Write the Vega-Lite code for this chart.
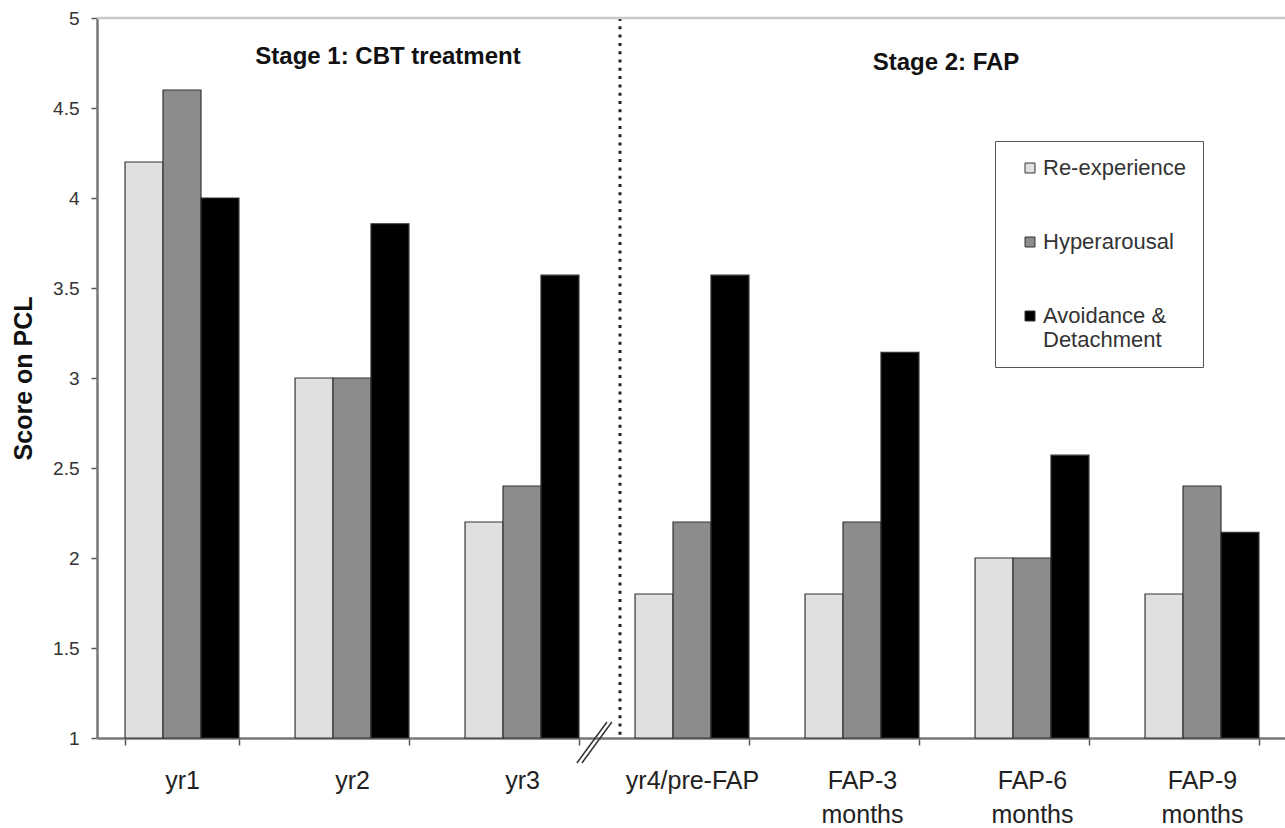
{
  "$schema": "https://vega.github.io/schema/vega-lite/v6.json",
  "autosize": "none",
  "width": 1190,
  "height": 720,
  "padding": {"left": 97, "top": 18, "right": 0, "bottom": 90},
  "background": "white",
  "config": {
    "view": {"stroke": null},
    "font": "Liberation Sans"
  },
  "datasets": {
    "scores": [
      {"cat": "yr1", "series": "Re-experience", "value": 4.2},
      {"cat": "yr1", "series": "Hyperarousal", "value": 4.6},
      {"cat": "yr1", "series": "Avoidance & Detachment", "value": 4.0},
      {"cat": "yr2", "series": "Re-experience", "value": 3.0},
      {"cat": "yr2", "series": "Hyperarousal", "value": 3.0},
      {"cat": "yr2", "series": "Avoidance & Detachment", "value": 3.857},
      {"cat": "yr3", "series": "Re-experience", "value": 2.2},
      {"cat": "yr3", "series": "Hyperarousal", "value": 2.4},
      {"cat": "yr3", "series": "Avoidance & Detachment", "value": 3.571},
      {"cat": "yr4/pre-FAP", "series": "Re-experience", "value": 1.8},
      {"cat": "yr4/pre-FAP", "series": "Hyperarousal", "value": 2.2},
      {"cat": "yr4/pre-FAP", "series": "Avoidance & Detachment", "value": 3.571},
      {"cat": "FAP-3 months", "series": "Re-experience", "value": 1.8},
      {"cat": "FAP-3 months", "series": "Hyperarousal", "value": 2.2},
      {"cat": "FAP-3 months", "series": "Avoidance & Detachment", "value": 3.143},
      {"cat": "FAP-6 months", "series": "Re-experience", "value": 2.0},
      {"cat": "FAP-6 months", "series": "Hyperarousal", "value": 2.0},
      {"cat": "FAP-6 months", "series": "Avoidance & Detachment", "value": 2.571},
      {"cat": "FAP-9 months", "series": "Re-experience", "value": 1.8},
      {"cat": "FAP-9 months", "series": "Hyperarousal", "value": 2.4},
      {"cat": "FAP-9 months", "series": "Avoidance & Detachment", "value": 2.143}
    ],
    "one": [{"k": 1}]
  },
  "layer": [
    {
      "data": {"name": "scores"},
      "mark": {"type": "bar", "stroke": "#333", "strokeWidth": 1.2},
      "encoding": {
        "x": {
          "field": "cat",
          "type": "nominal",
          "sort": ["yr1", "yr2", "yr3", "yr4/pre-FAP", "FAP-3 months", "FAP-6 months", "FAP-9 months"],
          "scale": {
            "domain": ["yr1", "yr2", "yr3", "yr4/pre-FAP", "FAP-3 months", "FAP-6 months", "FAP-9 months"],
            "paddingInner": 0.33,
            "paddingOuter": 0.165
          },
          "axis": {
            "title": null,
            "labelAngle": 0,
            "labelFontSize": 25,
            "labelColor": "#222",
            "labelBaseline": "top",
            "labelPadding": 23,
            "labelLineHeight": 34,
            "labelExpr": "indexof(datum.label, 'months') > 0 ? split(datum.label, ' ') : datum.label",
            "tickBand": "extent",
            "tickSize": 7,
            "tickColor": "#555",
            "tickWidth": 1.5,
            "domainColor": "#777",
            "domainWidth": 2.5,
            "grid": false
          }
        },
        "xOffset": {
          "field": "series",
          "type": "nominal",
          "sort": ["Re-experience", "Hyperarousal", "Avoidance & Detachment"],
          "scale": {"paddingInner": 0, "paddingOuter": 0}
        },
        "y": {
          "field": "value",
          "type": "quantitative",
          "scale": {"domain": [1, 5], "nice": false, "zero": false},
          "axis": {
            "title": "Score on PCL",
            "titleFontSize": 25,
            "titleFontWeight": "bold",
            "titleColor": "#111",
            "titlePadding": 16,
            "values": [1, 1.5, 2, 2.5, 3, 3.5, 4, 4.5, 5],
            "format": "~g",
            "labelFontSize": 19,
            "labelColor": "#333",
            "labelPadding": 12,
            "tickSize": 6,
            "tickColor": "#555",
            "tickWidth": 1.5,
            "domainColor": "#777",
            "domainWidth": 2.5,
            "grid": false
          }
        },
        "y2": {"datum": 1},
        "color": {
          "field": "series",
          "type": "nominal",
          "scale": {
            "domain": ["Re-experience", "Hyperarousal", "Avoidance & Detachment"],
            "range": ["#e0e0e0", "#8c8c8c", "#000000"]
          },
          "legend": {
            "title": null,
            "orient": "none",
            "legendX": 898,
            "legendY": 123,
            "fillColor": "white",
            "strokeColor": "#555",
            "padding": 16,
            "symbolType": "square",
            "symbolSize": 100,
            "symbolStrokeColor": "#333",
            "symbolStrokeWidth": 1,
            "symbolOffset": 8,
            "labelFontSize": 22,
            "labelColor": "#333",
            "labelOffset": 2,
            "labelLimit": 250,
            "labelLineHeight": 26,
            "rowPadding": 52,
            "labelExpr": "datum.label == 'Avoidance & Detachment' ? ['Avoidance &', 'Detachment'] : datum.label"
          }
        }
      }
    },
    {
      "data": {"name": "one"},
      "mark": {"type": "rule", "stroke": "#222", "strokeWidth": 3, "strokeDash": [3, 5.3], "strokeCap": "butt"},
      "encoding": {
        "x": {"datum": "yr4/pre-FAP", "type": "nominal", "bandPosition": -0.132},
        "y": {"datum": 5},
        "y2": {"datum": 1}
      }
    },
    {
      "data": {"name": "one"},
      "mark": {"type": "rule", "stroke": "#c8c8c8", "strokeWidth": 2.5},
      "encoding": {
        "y": {"datum": 5}
      }
    },
    {
      "data": {"name": "one"},
      "mark": {"type": "text", "fontSize": 24, "fontWeight": "bold", "color": "#111", "align": "center", "baseline": "middle"},
      "encoding": {
        "x": {"datum": "yr2", "type": "nominal", "bandPosition": 0.816},
        "y": {"datum": 4.783},
        "text": {"value": "Stage 1: CBT treatment"}
      }
    },
    {
      "data": {"name": "one"},
      "mark": {"type": "text", "fontSize": 24, "fontWeight": "bold", "color": "#111", "align": "center", "baseline": "middle"},
      "encoding": {
        "x": {"datum": "FAP-6 months", "type": "nominal", "bandPosition": -0.255},
        "y": {"datum": 4.75},
        "text": {"value": "Stage 2: FAP"}
      }
    },
    {
      "data": {"name": "one"},
      "mark": {"type": "rule", "stroke": "#333", "strokeWidth": 1.5},
      "encoding": {
        "x": {"datum": "yr3", "type": "nominal", "bandPosition": 0.982},
        "x2": {"datum": "yr3", "bandPosition": 1.246},
        "y": {"datum": 0.861},
        "y2": {"datum": 1.089}
      }
    },
    {
      "data": {"name": "one"},
      "mark": {"type": "rule", "stroke": "#333", "strokeWidth": 1.5},
      "encoding": {
        "x": {"datum": "yr3", "type": "nominal", "bandPosition": 1.026},
        "x2": {"datum": "yr3", "bandPosition": 1.289},
        "y": {"datum": 0.861},
        "y2": {"datum": 1.089}
      }
    }
  ]
}
